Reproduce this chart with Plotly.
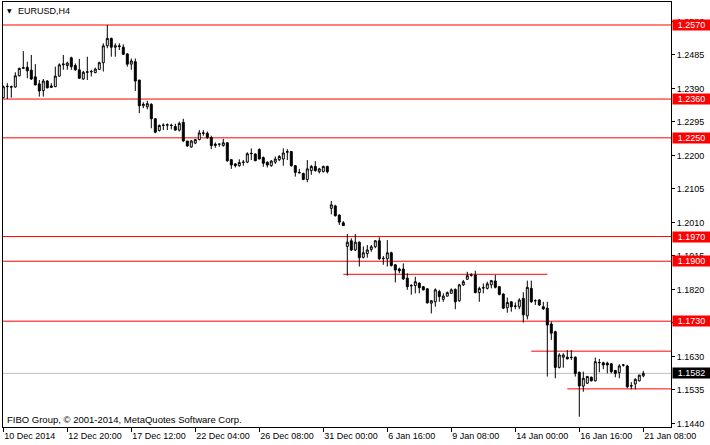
import plotly.graph_objects as go

# ---- data (EURUSD, H4) ----
open_ = [1.2364,1.2395,1.2395,1.2394,1.2426,1.2447,1.2450,1.2442,1.2423,1.2403,
         1.2384,1.2411,1.2393,1.2395,1.2425,1.2457,1.2455,1.2477,1.2455,1.2443,
         1.2417,1.2436,1.2437,1.2435,1.2444,1.2463,1.2511,1.2532,1.2507,1.2511,
         1.2507,1.2488,1.2459,1.2466,1.2414,1.2341,1.2338,1.2345,1.2304,1.2271,
         1.2285,1.2286,1.2286,1.2282,1.2272,1.2294,1.2241,1.2224,1.2235,1.2245,
         1.2264,1.2263,1.2251,1.2228,1.2232,1.2228,1.2236,1.2188,1.2176,1.2171,
         1.2180,1.2181,1.2205,1.2204,1.2217,1.2194,1.2181,1.2171,1.2181,1.2188,
         1.2190,1.2209,1.2211,1.2171,1.2152,1.2149,1.2132,1.2157,1.2169,1.2154,
         1.2154,1.2169,1.2050,1.2057,1.2031,1.2009,1.1942,1.1958,1.1932,1.1954,
         1.1911,1.1922,1.1933,1.1941,1.1958,1.1907,1.1907,1.1924,1.1890,1.1878,
         1.1878,1.1852,1.1830,1.1831,1.1838,1.1828,1.1822,1.1781,1.1785,1.1814,
         1.1792,1.1801,1.1809,1.1820,1.1788,1.1833,1.1849,1.1860,1.1861,1.1811,
         1.1824,1.1823,1.1833,1.1844,1.1828,1.1807,1.1768,1.1785,1.1772,1.1771,
         1.1795,1.1745,1.1823,1.1788,1.1790,1.1771,1.1767,1.1722,1.1700,1.1599,
         1.1628,1.1628,1.1628,1.1628,1.1585,1.1546,1.1554,1.1571,1.1561,1.1612,
         1.1612,1.1611,1.1609,1.1590,1.1584,1.1605,1.1603,1.1546,1.1552,1.1561,
         1.1575]
high = [1.2398,1.2405,1.2398,1.2436,1.2449,1.2496,1.2466,1.2485,1.2459,1.2414,
        1.2417,1.2414,1.2405,1.2452,1.2461,1.2485,1.2466,1.2480,1.2461,1.2474,
        1.2440,1.2480,1.2443,1.2449,1.2466,1.2518,1.2570,1.2534,1.2518,1.2518,
        1.2515,1.2490,1.2475,1.2475,1.2414,1.2351,1.2355,1.2348,1.2305,1.2288,
        1.2291,1.2291,1.2290,1.2290,1.2296,1.2304,1.2241,1.2244,1.2247,1.2272,
        1.2272,1.2268,1.2256,1.2237,1.2234,1.2247,1.2237,1.2190,1.2178,1.2189,
        1.2187,1.2209,1.2220,1.2206,1.2220,1.2197,1.2183,1.2187,1.2197,1.2201,
        1.2220,1.2218,1.2213,1.2173,1.2162,1.2151,1.2187,1.2173,1.2184,1.2165,
        1.2171,1.2171,1.2071,1.2060,1.2033,1.2014,1.1977,1.1965,1.1977,1.1956,
        1.1942,1.1946,1.1946,1.1960,1.1968,1.1915,1.1960,1.1927,1.1891,1.1882,
        1.1894,1.1866,1.1835,1.1856,1.1840,1.1830,1.1823,1.1790,1.1823,1.1819,
        1.1809,1.1814,1.1823,1.1823,1.1836,1.1847,1.1870,1.1866,1.1873,1.1828,
        1.1837,1.1842,1.1847,1.1861,1.1830,1.1809,1.1797,1.1787,1.1783,1.1795,
        1.1812,1.1845,1.1845,1.1792,1.1792,1.1785,1.1785,1.1729,1.1703,1.1639,
        1.1639,1.1648,1.1648,1.1630,1.1587,1.1587,1.1575,1.1573,1.1627,1.1623,
        1.1615,1.1615,1.1611,1.1592,1.1608,1.1609,1.1606,1.1557,1.1568,1.1578,
        1.1589]
low = [1.2362,1.2360,1.2364,1.2392,1.2424,1.2445,1.2419,1.2414,1.2399,1.2367,
       1.2367,1.2390,1.2392,1.2394,1.2424,1.2443,1.2443,1.2443,1.2440,1.2417,
       1.2414,1.2414,1.2424,1.2433,1.2443,1.2438,1.2504,1.2480,1.2480,1.2499,
       1.2485,1.2452,1.2443,1.2383,1.2320,1.2334,1.2331,1.2277,1.2263,1.2268,
       1.2272,1.2272,1.2274,1.2270,1.2268,1.2239,1.2225,1.2222,1.2232,1.2243,
       1.2256,1.2247,1.2218,1.2222,1.2225,1.2225,1.2182,1.2162,1.2166,1.2168,
       1.2171,1.2178,1.2187,1.2184,1.2189,1.2168,1.2166,1.2168,1.2176,1.2184,
       1.2171,1.2187,1.2168,1.2140,1.2149,1.2130,1.2124,1.2145,1.2154,1.2149,
       1.2152,1.2149,1.2033,1.2027,1.2003,1.2000,1.1859,1.1929,1.1929,1.1885,
       1.1908,1.1910,1.1927,1.1937,1.1904,1.1890,1.1885,1.1885,1.1840,1.1866,
       1.1847,1.1819,1.1805,1.1809,1.1809,1.1817,1.1780,1.1752,1.1771,1.1785,
       1.1785,1.1800,1.1809,1.1764,1.1785,1.1830,1.1847,1.1856,1.1809,1.1785,
       1.1809,1.1820,1.1823,1.1823,1.1803,1.1764,1.1754,1.1757,1.1764,1.1764,
       1.1726,1.1735,1.1782,1.1776,1.1773,1.1762,1.1573,1.1677,1.1568,1.1596,
       1.1598,1.1622,1.1620,1.1573,1.1459,1.1530,1.1552,1.1559,1.1559,1.1585,
       1.1594,1.1582,1.1582,1.1571,1.1568,1.1601,1.1540,1.1537,1.1537,1.1559,
       1.1571]
close = [1.2395,1.2396,1.2394,1.2426,1.2447,1.2449,1.2440,1.2417,1.2400,1.2383,
         1.2411,1.2392,1.2397,1.2425,1.2457,1.2459,1.2462,1.2452,1.2443,1.2419,
         1.2436,1.2437,1.2438,1.2445,1.2463,1.2511,1.2532,1.2507,1.2511,1.2509,
         1.2487,1.2459,1.2468,1.2411,1.2341,1.2345,1.2347,1.2304,1.2266,1.2285,
         1.2286,1.2287,1.2285,1.2272,1.2291,1.2241,1.2227,1.2241,1.2245,1.2264,
         1.2263,1.2251,1.2228,1.2232,1.2232,1.2236,1.2185,1.2173,1.2171,1.2180,
         1.2181,1.2205,1.2206,1.2185,1.2190,1.2178,1.2173,1.2184,1.2190,1.2197,
         1.2207,1.2211,1.2171,1.2152,1.2151,1.2132,1.2162,1.2169,1.2157,1.2162,
         1.2169,1.2154,1.2060,1.2029,1.2011,1.2001,1.1954,1.1932,1.1954,1.1910,
         1.1924,1.1932,1.1941,1.1958,1.1907,1.1908,1.1924,1.1888,1.1875,1.1873,
         1.1850,1.1828,1.1831,1.1842,1.1825,1.1819,1.1782,1.1788,1.1819,1.1800,
         1.1801,1.1811,1.1819,1.1785,1.1833,1.1842,1.1859,1.1861,1.1811,1.1823,
         1.1825,1.1836,1.1845,1.1826,1.1806,1.1767,1.1783,1.1771,1.1773,1.1790,
         1.1748,1.1826,1.1785,1.1788,1.1776,1.1765,1.1719,1.1696,1.1599,1.1634,
         1.1634,1.1623,1.1627,1.1582,1.1546,1.1568,1.1573,1.1561,1.1615,1.1613,
         1.1606,1.1606,1.1587,1.1582,1.1603,1.1606,1.1544,1.1547,1.1565,1.1577,
         1.1582]

x_tick_bars = [0, 16, 32, 48, 64, 80, 96, 112, 128, 144, 160]
x_tick_labels = ["10 Dec 2014", "12 Dec 20:00", "17 Dec 12:00", "22 Dec 04:00",
                 "26 Dec 08:00", "31 Dec 00:00", "6 Jan 16:00", "9 Jan 08:00",
                 "14 Jan 00:00", "16 Jan 16:00", "21 Jan 08:00"]
y_ticks = [1.1440, 1.1535, 1.1630, 1.1725, 1.1820, 1.1915, 1.2010,
           1.2105, 1.2200, 1.2295, 1.2390, 1.2485, 1.2580]
y_hidden_ticks = [1.1725]     # fully covered by the 1.1730 price label in the reference
levels = [1.2570, 1.2360, 1.2250, 1.1970, 1.1900, 1.1730]
current_price = 1.1582
seg_prices = [1.1863, 1.1645, 1.1538]
seg_start = [85, 132, 141]
seg_end = [136, None, None]   # None = runs to right edge

symbol = "EURUSD,H4"
watermark = "FIBO Group, \u00a9 2001-2014, MetaQuotes Software Corp."

# ---- figure ----
W, H = 710, 445
ML, MR, MT, MB = 3, 39, 2, 18
bar_px = 4.0
plot_w = W - ML - MR
x_lo = -0.3 / bar_px
x_hi = x_lo + plot_w / bar_px
y_top, y_bot = 1.263523, 1.14299

FONT = "Liberation Sans, Arial, sans-serif"
xs = list(range(len(open_)))

fig = go.Figure(go.Candlestick(
    x=xs, open=open_, high=high, low=low, close=close,
    increasing=dict(line=dict(color="black", width=1), fillcolor="white"),
    decreasing=dict(line=dict(color="black", width=1), fillcolor="black"),
    whiskerwidth=0, hoverinfo="skip", showlegend=False,
))

shapes = []
for lv in levels:
    shapes.append(dict(type="line", xref="paper", x0=0, x1=1, yref="y", y0=lv, y1=lv,
                       line=dict(color="#FF0000", width=1), layer="below"))
shapes.append(dict(type="line", xref="paper", x0=0, x1=1, yref="y",
                   y0=current_price, y1=current_price,
                   line=dict(color="#C0C0C0", width=1), layer="below"))
for p, s, e in zip(seg_prices, seg_start, seg_end):
    shapes.append(dict(type="line", xref="x", x0=s, x1=(x_hi if e is None else e),
                       yref="y", y0=p, y1=p,
                       line=dict(color="#FF0000", width=1), layer="below"))

annotations = []
for lv in levels:
    annotations.append(dict(xref="paper", x=1, xanchor="left", xshift=1,
                            yref="y", y=lv, yanchor="middle",
                            text=f"{lv:.4f}", showarrow=False,
                            bgcolor="#FF0000", font=dict(family=FONT, size=9, color="white"),
                            width=37, height=10, borderpad=0, align="center"))
annotations.append(dict(xref="paper", x=1, xanchor="left", xshift=1,
                        yref="y", y=current_price, yanchor="middle",
                        text=f"{current_price:.4f}", showarrow=False,
                        bgcolor="black", font=dict(family=FONT, size=9, color="white"),
                        width=37, height=10, borderpad=0, align="center"))
annotations.append(dict(xref="paper", x=0, xanchor="left", xshift=2,
                        yref="paper", y=1, yanchor="middle", yshift=-8.5,
                        text="\u25BC", showarrow=False,
                        font=dict(family="DejaVu Sans", size=6, color="black")))
annotations.append(dict(xref="paper", x=0, xanchor="left", xshift=13,
                        yref="paper", y=1, yanchor="middle", yshift=-8.5,
                        text=symbol, showarrow=False,
                        font=dict(family=FONT, size=9, color="black")))
annotations.append(dict(xref="paper", x=0, xanchor="left", xshift=2,
                        yref="paper", y=0, yanchor="middle", yshift=8,
                        text=watermark, showarrow=False,
                        font=dict(family=FONT, size=9.5, color="black")))

fig.update_layout(
    width=W, height=H,
    margin=dict(l=ML, r=MR, t=MT, b=MB, pad=0),
    paper_bgcolor="white", plot_bgcolor="white",
    showlegend=False, boxgap=0.3,
    shapes=shapes, annotations=annotations,
    font=dict(family=FONT, size=9, color="black"),
    xaxis=dict(range=[x_lo, x_hi], rangeslider=dict(visible=False),
               showgrid=False, zeroline=False,
               showline=True, mirror=True, linecolor="black", linewidth=1,
               ticks="outside", ticklen=4, tickcolor="black",
               tickvals=x_tick_bars, ticktext=x_tick_labels,
               ticklabelposition="outside right",
               tickfont=dict(family=FONT, size=9, color="black"),
               automargin=False, fixedrange=True),
    yaxis=dict(range=[y_bot, y_top], side="right",
               showgrid=False, zeroline=False,
               showline=True, mirror=True, linecolor="black", linewidth=1,
               ticks="outside", ticklen=3, tickcolor="black",
               tickvals=y_ticks,
               ticktext=["" if v in y_hidden_ticks else f"{v:.4f}" for v in y_ticks],
               tickfont=dict(family=FONT, size=9, color="black"),
               automargin=False, fixedrange=True),
)

fig.write_html("out.html", config={"displayModeBar": False},
               post_script="document.body.style.margin='0';document.body.style.padding='0';")
